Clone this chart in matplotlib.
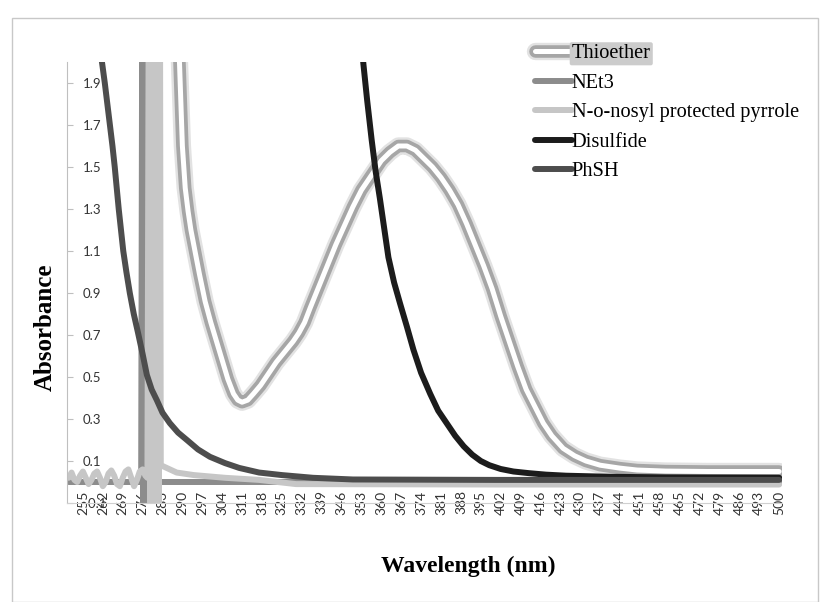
import matplotlib
matplotlib.use('Agg')
import matplotlib.pyplot as plt
import matplotlib.patheffects as pe
from matplotlib.patches import Rectangle

# wavelength (nm) / absorbance
thio_nm = [286, 288, 289, 290, 291, 292, 293, 294, 296, 298, 300, 302, 304, 306, 308, 309.5, 311,
           313, 315, 317.5, 320, 323, 326, 329, 331, 333, 335, 338, 341, 344, 347, 350, 353, 357,
           360, 363, 366, 369, 372, 375, 378, 381, 384, 387, 390, 393, 396, 399, 402, 405, 408,
           411, 414, 417, 420, 424, 428, 432, 437, 444, 450, 460, 475, 490, 500]
thio_abs = [3.2, 2.3, 1.99, 1.6, 1.4, 1.29, 1.2, 1.13, 0.99, 0.86, 0.76, 0.67, 0.58, 0.49, 0.42,
            0.39, 0.38, 0.39, 0.42, 0.46, 0.51, 0.57, 0.62, 0.67, 0.71, 0.76, 0.83, 0.93, 1.03,
            1.13, 1.22, 1.31, 1.39, 1.47, 1.53, 1.57, 1.60, 1.60, 1.58, 1.54, 1.50, 1.45, 1.39,
            1.32, 1.23, 1.13, 1.03, 0.92, 0.79, 0.67, 0.55, 0.44, 0.36, 0.28, 0.22, 0.16, 0.125,
            0.10, 0.08, 0.066, 0.057, 0.052, 0.05, 0.05, 0.05]

net3_nm = [250, 260, 270, 275.5, 275.9, 276.3, 276.7, 277.1, 277.4, 290, 320, 360, 400, 450, 500]
net3_abs = [0.0, 0.0, 0.0, 0.0, 2.5, -0.15, 2.5, -0.15, 0.0, 0.0, 0.0, 0.0, 0.0, 0.0, 0.0]

nosyl_nm = [250, 251, 252, 253, 254, 255, 256, 257, 258, 259, 260, 261, 262, 263, 264, 265, 266,
            267, 268, 269, 270, 271, 272, 273, 274, 275, 276, 277, 277.7,
            278.2, 278.7, 279.2, 279.7, 280.2, 280.7, 281.2, 281.7, 282.1, 282.4,
            284, 288, 294, 305, 317, 330, 400, 500]
nosyl_abs = [0.02, 0.045, 0.01, 0.0, 0.03, 0.05, 0.02, -0.01, 0.01, 0.04, 0.05, 0.02, -0.02, 0.0,
             0.04, 0.055, 0.03, -0.01, -0.02, 0.02, 0.05, 0.06, 0.02, -0.02, 0.01, 0.05, 0.06, 0.03,
             0.02,
             2.5, -0.15, 2.5, -0.15, 2.5, -0.15, 2.5, -0.15, 2.5, 0.08,
             0.07, 0.045, 0.033, 0.02, 0.01, -0.01, -0.012, -0.012]

disul_nm = [350, 352, 353.7, 355, 356.6, 358, 359.5, 361, 362.5, 364.5, 366.6, 369, 371.3, 374,
            377.2, 380, 383, 386, 389, 392, 395, 398, 402, 406.5, 412, 418, 425, 440, 460, 500]
disul_abs = [2.6, 2.25, 1.99, 1.82, 1.63, 1.48, 1.35, 1.21, 1.07, 0.95, 0.85, 0.74, 0.63, 0.52,
             0.42, 0.34, 0.28, 0.22, 0.17, 0.13, 0.10, 0.08, 0.062, 0.05, 0.042, 0.035, 0.03,
             0.025, 0.022, 0.02]

phsh_nm = [258, 260, 261.7, 262.7, 263.6, 264.5, 265.4, 266.2, 266.9, 267.6, 268.4, 269.2, 270.3,
           271.5, 272.9, 274.4, 276, 277.5, 279.2, 281, 283, 285.6, 288.5, 291.6, 295.5, 299.7,
           305, 310, 317, 325, 336, 350, 400, 500]
phsh_abs = [2.6, 2.3, 2.0, 1.9, 1.8, 1.7, 1.6, 1.5, 1.4, 1.3, 1.2, 1.1, 1.0,
            0.9, 0.8, 0.71, 0.61, 0.51, 0.44, 0.39, 0.33, 0.28, 0.235, 0.20, 0.155, 0.12,
            0.09, 0.067, 0.045, 0.033, 0.02, 0.012, 0.01, 0.01]

x_ticks = list(range(255, 501, 7))
y_ticks = [-0.1, 0.1, 0.3, 0.5, 0.7, 0.9, 1.1, 1.3, 1.5, 1.7, 1.9]

fig = plt.figure(figsize=(8.25, 6.02), dpi=100)
ax = fig.add_axes([67/825, 1-503/602, 715/825, 441/602])

style = dict(lw=4.3, solid_capstyle='round', solid_joinstyle='round')
thio, = ax.plot(thio_nm, thio_abs, color='white', lw=3.6, solid_capstyle='round',
                solid_joinstyle='round', label='Thioether',
                path_effects=[pe.Stroke(linewidth=12.5, foreground='#e2e2e2'),
                              pe.Stroke(linewidth=9, foreground='#a6a6a6'), pe.Normal()])
net3, = ax.plot(net3_nm, net3_abs, color='#8c8c8c', label='NEt3', **style)
nosyl, = ax.plot(nosyl_nm, nosyl_abs, color='#c6c6c6', label='N-o-nosyl protected pyrrole', **style)
disul, = ax.plot(disul_nm, disul_abs, color='#1c1c1c', label='Disulfide', **style)
phsh, = ax.plot(phsh_nm, phsh_abs, color='#4d4d4d', label='PhSH', **style)

ax.set_xlim(249.4, 501)
ax.set_ylim(-0.1, 2.0)

for s in ['top', 'right']:
    ax.spines[s].set_visible(False)
ax.spines['left'].set_color('#bfbfbf')
ax.spines['bottom'].set_color('#d0d0d0')

ax.set_xticks(x_ticks)
ax.set_xticklabels([str(v) for v in x_ticks], rotation=90, family='Lato', fontsize=10, color='#333333')
ax.tick_params(axis='x', length=0, pad=-9)

ax.set_yticks(y_ticks)
ax.set_yticklabels(['%.1f' % v for v in y_ticks], family='Lato', fontsize=9.5, color='#333333')
ax.tick_params(axis='y', direction='in', length=4, color='#bfbfbf', pad=-11.5)
for lab in ax.get_yticklabels():
    lab.set_horizontalalignment('left')

ax.set_ylabel('Absorbance', family='Liberation Serif', fontweight='bold', fontsize=18,
              va='center', ha='center')
ax.yaxis.set_label_coords(-0.031, 0.398)
ax.set_xlabel('Wavelength (nm)', family='Liberation Serif', fontweight='bold', fontsize=17,
              va='center', ha='center')
ax.xaxis.set_label_coords(0.561, -0.143)

leg = fig.legend([thio, net3, nosyl, disul, phsh],
                 [h.get_label() for h in [thio, net3, nosyl, disul, phsh]],
                 loc='upper left', bbox_to_anchor=(535/825, 1-44/602), frameon=False,
                 handlelength=1.8, handletextpad=0.0, labelspacing=0.5,
                 borderpad=0, borderaxespad=0,
                 prop={'family': 'Liberation Serif', 'size': 14.7})
leg.get_texts()[0].set_bbox(dict(boxstyle='round,pad=0.1', fc='#cccccc', ec='none'))

# outer chart frame
fig.patches.append(Rectangle((12/825, 0), 806/825, 1-18/602, transform=fig.transFigure,
                             fill=False, ec='#c8c8c8', lw=1))

fig.savefig('out.png', dpi=100)
